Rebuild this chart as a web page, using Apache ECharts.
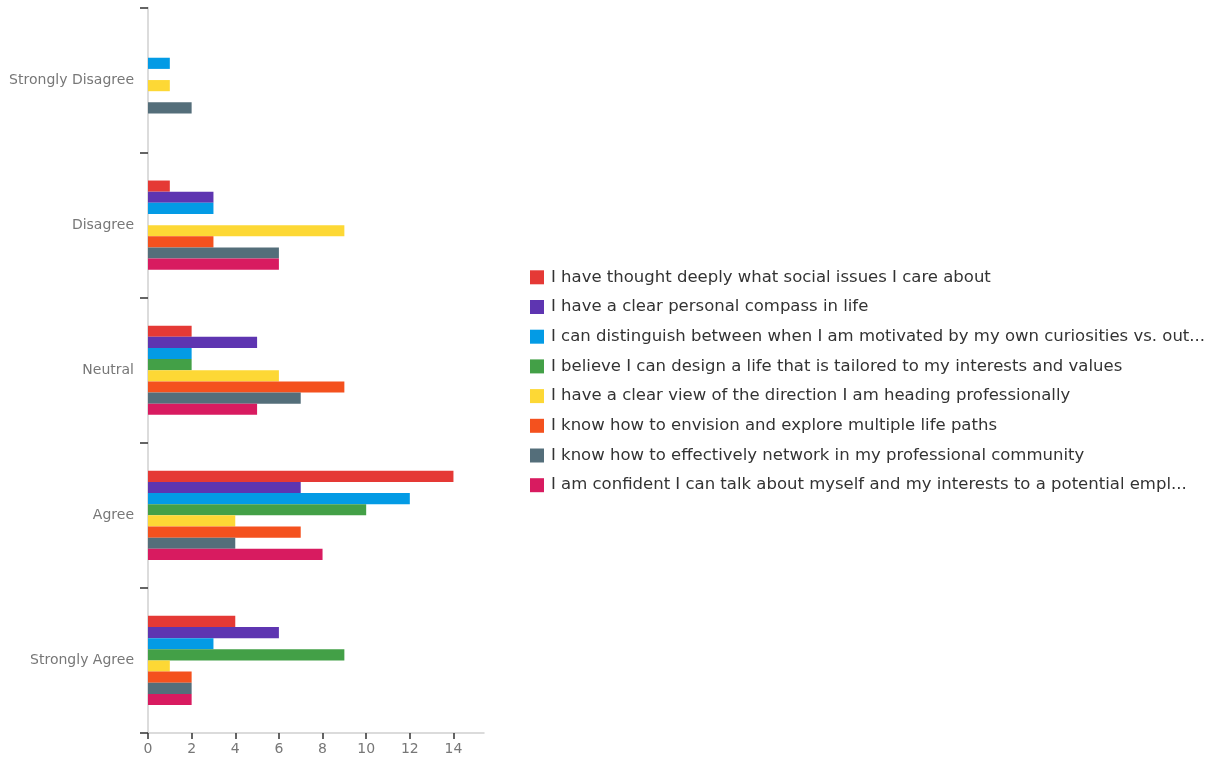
<!DOCTYPE html>
<html>
<head>
<meta charset="utf-8">
<script src="https://cdn.jsdelivr.net/npm/echarts@6/dist/echarts.min.js"></script>
<style>
html,body{margin:0;padding:0;background:#fff;}
#chart{width:1216px;height:763px;}
</style>
</head>
<body>
<div id="chart"></div>
<script>
const categories = ["Strongly Disagree", "Disagree", "Neutral", "Agree", "Strongly Agree"];
const seriesNames = [
  "I have thought deeply what social issues I care about",
  "I have a clear personal compass in life",
  "I can distinguish between when I am motivated by my own curiosities vs. out...",
  "I believe I can design a life that is tailored to my interests and values",
  "I have a clear view of the direction I am heading professionally",
  "I know how to envision and explore multiple life paths",
  "I know how to effectively network in my professional community",
  "I am confident I can talk about myself and my interests to a potential empl..."
];
const colors = ["#E53935", "#5E35B1", "#039BE5", "#43A047", "#FDD835", "#F4511E", "#546E7A", "#D81B60"];
const socialIssues = [0, 1, 2, 14, 4];
const personalCompass = [0, 3, 5, 7, 6];
const distinguish = [1, 3, 2, 12, 3];
const designLife = [0, 0, 2, 10, 9];
const direction = [1, 9, 6, 4, 1];
const multiplePaths = [0, 3, 9, 7, 2];
const network = [2, 6, 7, 4, 2];
const talkAboutMyself = [0, 6, 5, 8, 2];
const seriesValues = [socialIssues, personalCompass, distinguish, designLife, direction, multiplePaths, network, talkAboutMyself];
const xTicks = [0, 2, 4, 6, 8, 10, 12, 14];

const chart = echarts.init(document.getElementById('chart'));
const font = '"DejaVu Sans", sans-serif';
chart.setOption({
  animation: false,
  color: colors,
  grid: {left: 148, top: 7.5, right: 732, bottom: 30, containLabel: false},
  legend: {
    orient: 'vertical',
    left: 530,
    top: 268.8,
    padding: 0,
    itemWidth: 14,
    itemHeight: 14,
    itemGap: 12.7,
    icon: 'rect',
    data: seriesNames,
    textStyle: {color: '#333', fontSize: 16.5, fontFamily: font, padding: [0, 0, 0, 2]}
  },
  xAxis: {
    type: 'value',
    min: 0,
    max: 15.4,
    interval: 2,
    splitLine: {show: false},
    axisLine: {show: true, lineStyle: {color: '#d0d0d0', width: 1.5}},
    axisTick: {show: true, length: 6, lineStyle: {color: '#333', width: 1.5}},
    axisLabel: {
      color: '#777', fontSize: 14, fontFamily: font, margin: 9,
      showMaxLabel: false,
      formatter: v => (xTicks.indexOf(v) >= 0 ? String(v) : '')
    }
  },
  yAxis: {
    type: 'category',
    inverse: true,
    data: categories,
    axisLine: {show: true, lineStyle: {color: '#d0d0d0', width: 1.5}},
    axisTick: {show: true, length: 8, lineStyle: {color: '#333', width: 1.5}},
    axisLabel: {color: '#777', fontSize: 14, fontFamily: font, margin: 14}
  },
  series: seriesNames.map((name, i) => ({
    name: name,
    type: 'bar',
    data: seriesValues[i],
    barGap: '0%',
    barCategoryGap: '38.5%',
    itemStyle: {color: colors[i]}
  }))
});
</script>
</body>
</html>
